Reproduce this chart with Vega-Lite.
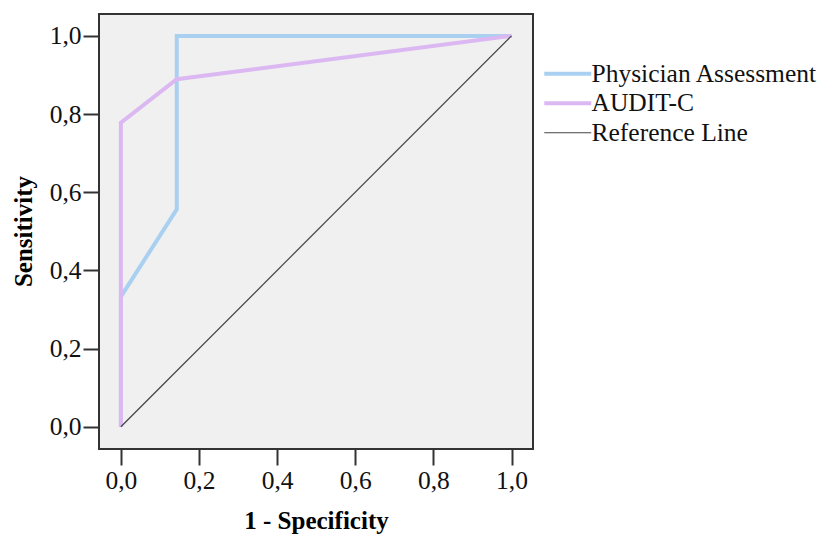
{
  "$schema": "https://vega.github.io/schema/vega-lite/v6.json",
  "autosize": "none",
  "width": 434,
  "height": 435,
  "padding": {"left": 99, "top": 14, "right": 287, "bottom": 86},
  "background": "white",
  "config": {
    "view": {"fill": "#f0f0f0", "stroke": "#333333", "strokeWidth": 2},
    "font": "Liberation Serif",
    "axis": {
      "grid": false,
      "domain": false,
      "tickColor": "#333333",
      "tickWidth": 2,
      "tickSize": 16,
      "labelFont": "Liberation Serif",
      "labelFontSize": 25.5,
      "labelColor": "#111111",
      "titleFont": "Liberation Serif",
      "titleFontSize": 25,
      "titleFontWeight": "bold",
      "titleColor": "#000000"
    },
    "legend": {
      "labelFont": "Liberation Serif",
      "labelFontSize": 25.5,
      "labelColor": "#111111"
    }
  },
  "data": {
    "values": [
      {"series": "Physician Assessment", "i": 0, "fpr": 0, "tpr": 0},
      {"series": "Physician Assessment", "i": 1, "fpr": 0, "tpr": 0.333},
      {"series": "Physician Assessment", "i": 2, "fpr": 0.143, "tpr": 0.556},
      {"series": "Physician Assessment", "i": 3, "fpr": 0.143, "tpr": 1},
      {"series": "Physician Assessment", "i": 4, "fpr": 1, "tpr": 1},
      {"series": "AUDIT-C", "i": 0, "fpr": 0, "tpr": 0},
      {"series": "AUDIT-C", "i": 1, "fpr": 0, "tpr": 0.778},
      {"series": "AUDIT-C", "i": 2, "fpr": 0.143, "tpr": 0.889},
      {"series": "AUDIT-C", "i": 3, "fpr": 1, "tpr": 1},
      {"series": "Reference Line", "i": 0, "fpr": 0, "tpr": 0},
      {"series": "Reference Line", "i": 1, "fpr": 1, "tpr": 1}
    ]
  },
  "mark": {"type": "line", "strokeJoin": "miter", "strokeCap": "butt"},
  "encoding": {
    "x": {
      "field": "fpr",
      "type": "quantitative",
      "title": "1 - Specificity",
      "scale": {"domain": [-0.056, 1.055], "nice": false, "zero": false},
      "axis": {
        "values": [0, 0.2, 0.4, 0.6, 0.8, 1],
        "format": ".1f",
        "labelExpr": "replace(datum.label, '.', ',')",
        "labelBaseline": "alphabetic",
        "labelPadding": 23,
        "titleX": 217,
        "titleY": 79,
        "titleBaseline": "alphabetic",
        "titleAlign": "center"
      }
    },
    "y": {
      "field": "tpr",
      "type": "quantitative",
      "title": "Sensitivity",
      "scale": {"domain": [-0.057, 1.056], "nice": false, "zero": false},
      "axis": {
        "values": [0, 0.2, 0.4, 0.6, 0.8, 1],
        "format": ".1f",
        "labelExpr": "replace(datum.label, '.', ',')",
        "labelPadding": 2,
        "titleX": -68,
        "titleY": 217,
        "titleAngle": -90,
        "titleBaseline": "alphabetic",
        "titleAlign": "center"
      }
    },
    "order": {"field": "i", "type": "quantitative"},
    "color": {
      "field": "series",
      "type": "nominal",
      "scale": {
        "domain": ["Physician Assessment", "AUDIT-C", "Reference Line"],
        "range": ["#a9d0f0", "#dcb8f2", "#444444"]
      },
      "legend": {
        "title": null,
        "orient": "none",
        "legendX": 456,
        "legendY": 47,
        "symbolType": "stroke",
        "symbolSize": 2209,
        "rowPadding": 2.5,
        "labelOffset": 11,
        "labelLimit": 400,
        "encode": {
          "symbols": {
            "update": {
              "strokeWidth": {"signal": "datum.value === 'Reference Line' ? 1.2 : 4"}
            }
          }
        }
      }
    },
    "strokeWidth": {
      "condition": {"test": "datum.series === 'Reference Line'", "value": 1.2},
      "value": 4
    }
  }
}
